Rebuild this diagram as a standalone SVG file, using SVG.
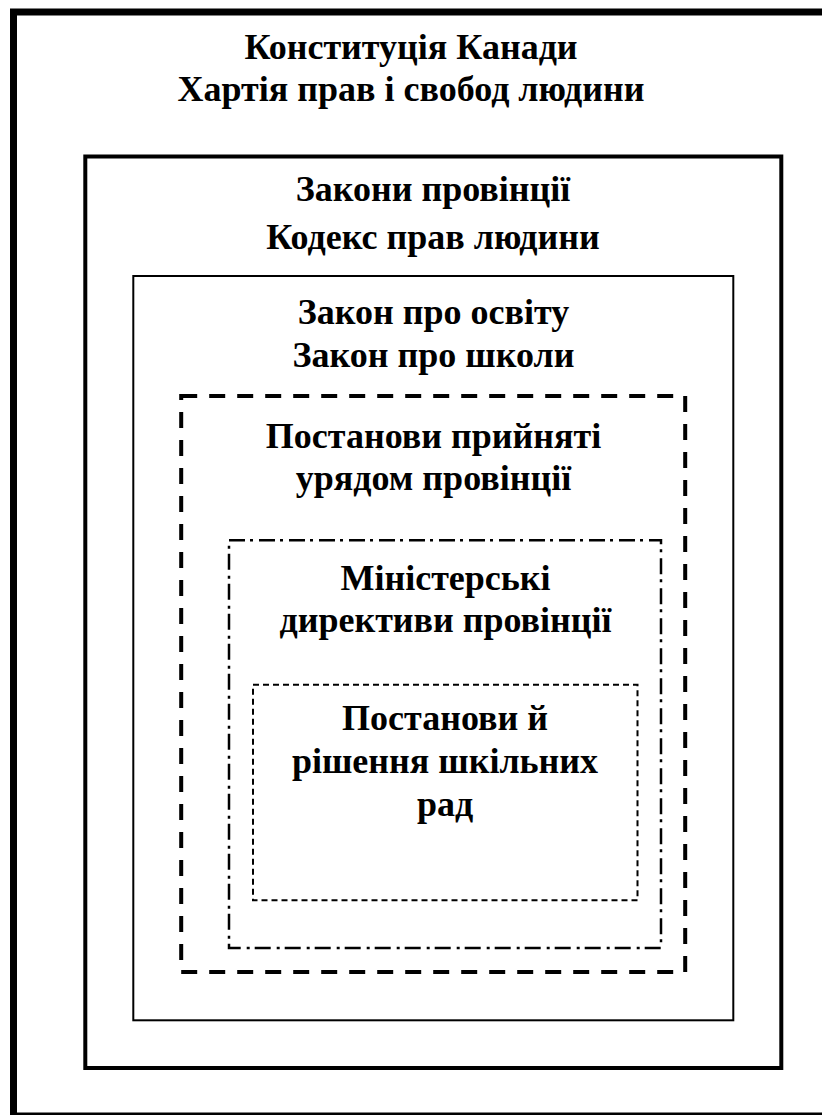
<svg xmlns="http://www.w3.org/2000/svg" width="822" height="1115" viewBox="0 0 822 1115">
<style>
text{font-family:"Liberation Serif","Times New Roman",serif;font-weight:bold;font-size:36px;fill:#000;text-anchor:middle}
rect{fill:none;stroke:#000}
</style>
<rect x="0" y="0" width="822" height="1115" fill="#fff" style="fill:#fff;stroke:none"/>
<g id="n1">
<rect x="13.5" y="12" width="820" height="1104" stroke-width="7"/>
<text x="411" y="59">Конституція Канади</text>
<text x="411" y="101">Хартія прав і свобод людини</text>
</g>
<g id="n2">
<rect x="85.3" y="156.5" width="696" height="911.5" stroke-width="4"/>
<text x="433" y="201">Закони провінції</text>
<text x="433" y="249">Кодекс прав людини</text>
</g>
<g id="n3">
<rect x="133.3" y="276" width="600" height="744.3" stroke-width="2"/>
<text x="433.5" y="324">Закон про освіту</text>
<text x="433.5" y="367">Закон про школи</text>
</g>
<g id="n4">
<rect x="181.2" y="396" width="504" height="576" stroke-width="4" stroke-dasharray="16 12"/>
<text x="433.5" y="448">Постанови прийняті</text>
<text x="433.5" y="490">урядом провінції</text>
</g>
<g id="n5">
<rect x="229" y="540.3" width="432" height="407.7" stroke-width="2.5" stroke-dasharray="16 5 3 6"/>
<text x="445.5" y="590">Міністерські</text>
<text x="445.5" y="632">директиви провінції</text>
</g>
<g id="n6">
<rect x="253" y="684.8" width="384.5" height="215.5" stroke-width="2" stroke-dasharray="6 4"/>
<text x="445" y="730">Постанови й</text>
<text x="445" y="773">рішення шкільних</text>
<text x="445" y="816">рад</text>
</g>
<g id="connectors"/>
</svg>
